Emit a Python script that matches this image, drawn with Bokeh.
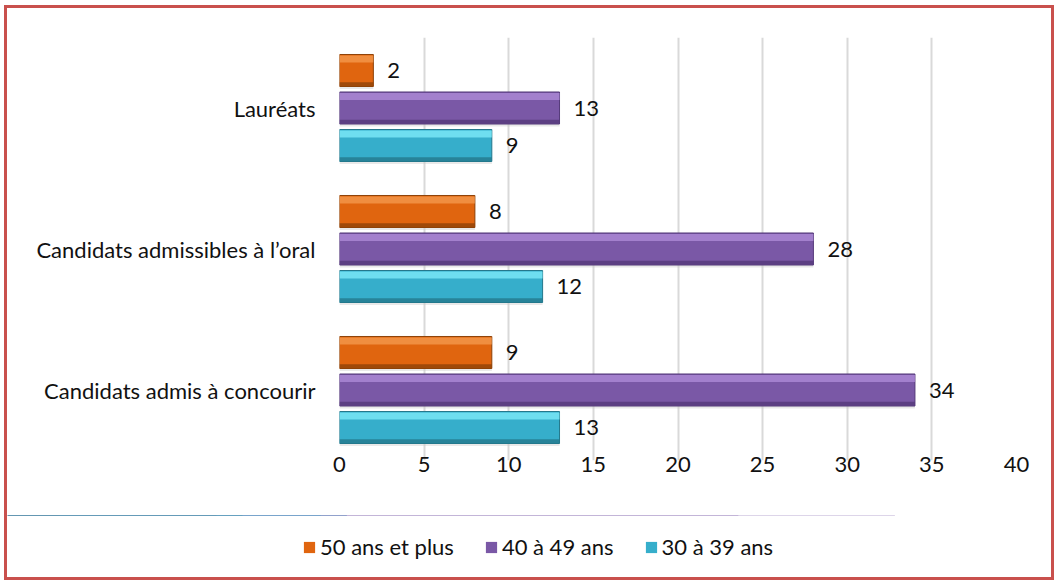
from bokeh.plotting import figure
from bokeh.layouts import column
from bokeh.models import ColumnDataSource, FactorRange, Legend, LegendItem, FixedTicker
from bokeh.transform import dodge
from bokeh.core.properties import value
from bokeh.embed import file_html
from bokeh.resources import INLINE

categories = ["Candidats admis à concourir", "Candidats admissibles à l’oral", "Lauréats"]
series_names = ["50 ans et plus", "40 à 49 ans", "30 à 39 ans"]
v50 = [9, 8, 2]
v40 = [34, 28, 13]
v30 = [13, 12, 9]
x_ticks = [0, 5, 10, 15, 20, 25, 30, 35, 40]

FONT = "Lato"
FS = "22px"
TXT = "#111111"
base_cols = ["#E0650F", "#7A58A6", "#36AECB"]
hi_cols = ["#F7A055", "#B592DE", "#86F2FF"]
dk_cols = ["#8E4208", "#553A7A", "#24788C"]

src = ColumnDataSource(dict(cat=categories, v50=v50, v40=v40, v30=v30))

p = figure(width=1044, height=507, y_range=FactorRange(factors=categories),
           x_range=(0, 40), output_backend="svg", toolbar_location=None,
           min_border_left=332, min_border_right=35, min_border_top=29, min_border_bottom=55)
p.outline_line_color = None
p.background_fill_color = "white"

p.xaxis.ticker = FixedTicker(ticks=x_ticks)
p.xaxis.axis_line_color = None
p.xaxis.major_tick_line_color = None
p.xaxis.minor_tick_line_color = None
p.xaxis.major_tick_out = 0
p.xaxis.major_label_standoff = -4
p.xaxis.major_label_text_font = FONT
p.xaxis.major_label_text_font_size = FS
p.xaxis.major_label_text_color = TXT

p.yaxis.axis_line_color = None
p.yaxis.major_tick_line_color = None
p.yaxis.major_tick_out = 0
p.yaxis.major_label_standoff = 24
p.yaxis.major_label_text_font = FONT
p.yaxis.major_label_text_font_size = FS
p.yaxis.major_label_text_color = TXT

p.ygrid.grid_line_color = None
p.xgrid.grid_line_color = "#D9D9D9"
p.xgrid.grid_line_width = 2

H = 0.227
offsets = [0.266, 0.0, -0.266]
cols = ["v50", "v40", "v30"]
for i, (c, off) in enumerate(zip(cols, offsets)):
    p.hbar(y=dodge("cat", off - 0.018, range=p.y_range), left=0, right=c, height=H,
           source=src, fill_color="#C8C8C8", fill_alpha=0.4, line_color=None)
    p.hbar(y=dodge("cat", off, range=p.y_range), left=0, right=c, height=H,
           source=src, fill_color=base_cols[i], line_color=dk_cols[i], line_width=1)
    p.hbar(y=dodge("cat", off + H * 0.36, range=p.y_range), left=0, right=c, height=H * 0.22,
           source=src, fill_color=hi_cols[i], fill_alpha=0.7, line_color=None)
    p.hbar(y=dodge("cat", off - H * 0.43, range=p.y_range), left=0, right=c, height=H * 0.12,
           source=src, fill_color=dk_cols[i], fill_alpha=0.8, line_color=None)
    p.text(x=c, y=dodge("cat", off, range=p.y_range), text=c, source=src,
           x_offset=14, text_align="left", text_baseline="middle",
           text_font=value(FONT), text_font_size=FS, text_color=TXT)

# legend strip below the chart; its bars sit outside the strip's visible y range
pl = figure(width=1044, height=62, x_range=(0, 40), y_range=(0, 1),
            output_backend="svg", toolbar_location=None, frame_align=False,
            x_axis_location=None, y_axis_location=None, min_border=0)
pl.outline_line_color = None
pl.xgrid.visible = False
pl.ygrid.visible = False
legend_items = []
for i, c in enumerate(cols):
    r = pl.hbar(y=5, left=0, right=c, height=0.5, source=src,
                fill_color=base_cols[i], line_color=None)
    legend_items.append(LegendItem(label=series_names[i], renderers=[r]))
legend = Legend(items=legend_items, orientation="horizontal", location=(295, 17),
                glyph_width=14, glyph_height=14, label_standoff=4, spacing=30,
                padding=0, margin=0, border_line_color=None, background_fill_alpha=0,
                label_text_font=FONT, label_text_font_size=FS, label_text_color=TXT)
pl.add_layout(legend, "center")

layout = column(p, pl, spacing=0)
layout.styles = {"border": "3px solid #C9504D", "margin-left": "4px", "margin-top": "5px"}

open("out.html", "w").write(file_html(layout, INLINE))
